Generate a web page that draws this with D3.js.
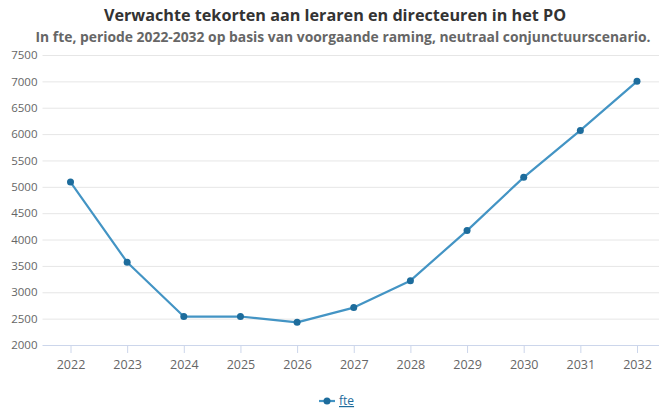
<!DOCTYPE html>
<html>
<head>
<meta charset="utf-8">
<script src="https://cdn.jsdelivr.net/npm/d3@7"></script>
<style>
  body { margin: 0; background: #fff; }
  text { font-family: "Open Sans", sans-serif; }
</style>
</head>
<body>
<div id="chart"></div>
<script>
var years = ['2022', '2023', '2024', '2025', '2026', '2027', '2028', '2029', '2030', '2031', '2032'];
var fte = [5090, 3570, 2540, 2540, 2430, 2710, 3220, 4170, 5180, 6070, 7000];
var yTicks = [2000, 2500, 3000, 3500, 4000, 4500, 5000, 5500, 6000, 6500, 7000, 7500];

var width = 659, height = 410;

var svg = d3.select('#chart')
    .append('svg')
    .attr('width', width)
    .attr('height', height);

var plotLeft = 42.5, plotRight = 659, plotTop = 55, plotBottom = 345;

var x = d3.scalePoint().domain(years).range([70.5, 637]);
var y = d3.scaleLinear().domain([2000, 7500]).range([plotBottom, plotTop]);

// title
svg.append('text')
    .attr('x', 335).attr('y', 21)
    .attr('text-anchor', 'middle')
    .style('font-size', '16.2px').style('font-weight', 'bold')
    .attr('fill', '#333')
    .text('Verwachte tekorten aan leraren en directeuren in het PO');

svg.append('text')
    .attr('x', 343).attr('y', 42)
    .attr('text-anchor', 'middle')
    .style('font-size', '13.8px').style('font-weight', 'bold')
    .attr('fill', '#666')
    .attr('textLength', 615)
    .attr('lengthAdjust', 'spacingAndGlyphs')
    .text('In fte, periode 2022-2032 op basis van voorgaande raming, neutraal conjunctuurscenario.');

// grid + y labels
var yAxis = svg.append('g').attr('transform', `translate(${plotLeft},0)`)
    .call(d3.axisLeft(y).tickValues(yTicks).tickFormat(d3.format('d'))
        .tickSize(-(plotRight - plotLeft)).tickPadding(5));
yAxis.select('.domain').remove();
yAxis.selectAll('line').attr('stroke', '#e6e6e6');
yAxis.selectAll('.tick').filter(d => d === 2000).select('line').remove();
yAxis.selectAll('text').attr('fill', '#666').style('font-size', '11.5px');

// x axis
var xAxis = svg.append('g').attr('transform', `translate(0,${plotBottom})`)
    .call(d3.axisBottom(x).tickSize(8).tickPadding(7).tickSizeOuter(0));
xAxis.select('.domain').attr('stroke', '#ccd6eb').attr('d', `M${plotLeft},0.5H${plotRight}`);
xAxis.selectAll('line').attr('stroke', '#ccd6eb');
xAxis.selectAll('text').attr('fill', '#666').style('font-size', '12.5px');

// line
var line = d3.line().x((d, i) => x(years[i])).y(d => y(d));
svg.append('path')
    .datum(fte)
    .attr('d', line)
    .attr('fill', 'none')
    .attr('stroke', '#4394c4')
    .attr('stroke-width', 2.2)
    .attr('stroke-linejoin', 'round');

svg.selectAll('.pt').data(fte).enter()
    .append('circle')
    .attr('class', 'pt')
    .attr('cx', (d, i) => x(years[i]))
    .attr('cy', d => y(d))
    .attr('r', 3.5)
    .attr('fill', '#1d6c9c');

// legend
var lg = svg.append('g').attr('transform', 'translate(319,401)');
lg.append('line').attr('x1', 0).attr('x2', 16).attr('stroke', '#4394c4').attr('stroke-width', 2.2);
lg.append('circle').attr('cx', 8).attr('r', 3.5).attr('fill', '#1d6c9c');
lg.append('text').attr('x', 20).attr('y', 4)
    .style('font-size', '12px').style('text-decoration', 'underline')
    .attr('fill', '#1d6c9c')
    .text('fte');
</script>
</body>
</html>
